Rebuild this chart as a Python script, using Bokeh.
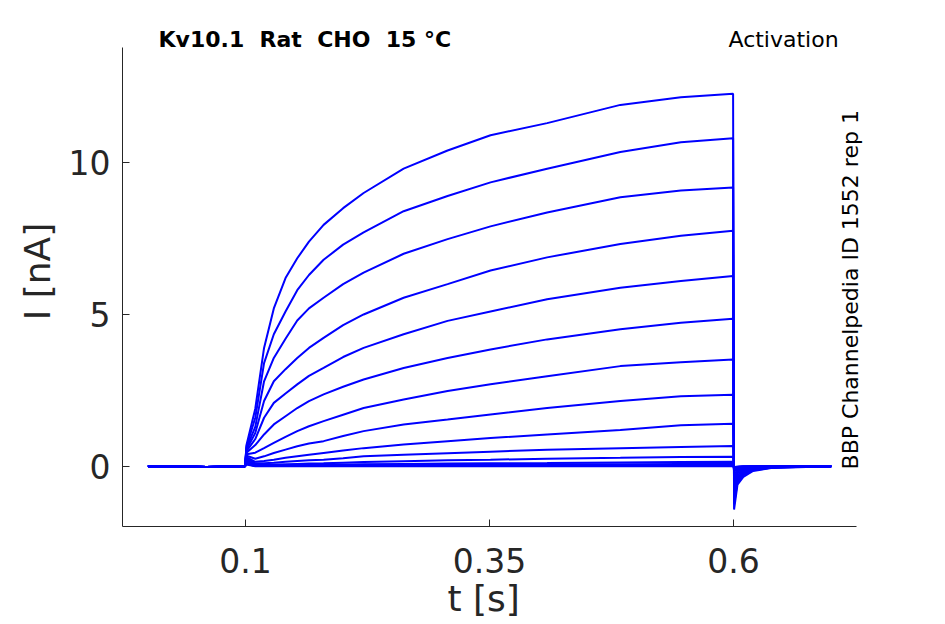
import math
from bokeh.plotting import figure
from bokeh.models import FixedTicker, Label, Range1d, Title
from bokeh.embed import file_html
from bokeh.resources import INLINE

# time points (s) shared by all sweeps
t_s = [0.0, 0.03, 0.06, 0.0995, 0.101, 0.110, 0.119, 0.129, 0.141, 0.153, 0.165, 0.180,
       0.200, 0.221, 0.262, 0.307, 0.351, 0.409, 0.484, 0.546, 0.5995,
       0.6005, 0.604, 0.610, 0.620, 0.640, 0.700]

# current (nA) per sweep
sweep_01 = [0, 0, -0.02, 0, 0.70, 1.90, 3.90, 5.20, 6.20, 6.85, 7.40, 7.95, 8.50, 9.00, 9.80, 10.40, 10.90, 11.30, 11.90, 12.15, 12.27, -1.42, -0.60, -0.35, -0.15, -0.05, 0]
sweep_02 = [0, 0, -0.02, 0, 0.65, 1.60, 3.40, 4.35, 5.10, 5.80, 6.30, 6.80, 7.30, 7.70, 8.40, 8.90, 9.35, 9.80, 10.35, 10.67, 10.80, -1.25, -0.52, -0.30, -0.13, -0.04, 0]
sweep_03 = [0, 0, -0.02, 0, 0.60, 1.30, 2.80, 3.57, 4.20, 4.80, 5.20, 5.55, 6.00, 6.38, 7.00, 7.48, 7.90, 8.36, 8.86, 9.08, 9.18, -1.10, -0.46, -0.26, -0.11, -0.04, 0]
sweep_04 = [0, 0, -0.02, 0, 0.55, 1.10, 2.15, 2.80, 3.20, 3.57, 3.90, 4.23, 4.65, 5.00, 5.55, 6.00, 6.45, 6.88, 7.32, 7.59, 7.76, -0.95, -0.40, -0.23, -0.10, -0.03, 0]
sweep_05 = [0, 0, -0.02, 0, 0.50, 0.90, 1.60, 2.09, 2.40, 2.70, 2.98, 3.24, 3.60, 3.90, 4.35, 4.79, 5.10, 5.50, 5.88, 6.10, 6.27, -0.80, -0.34, -0.20, -0.08, -0.03, 0]
sweep_06 = [0, 0, -0.02, 0, 0.45, 0.70, 1.05, 1.38, 1.65, 1.92, 2.15, 2.37, 2.62, 2.86, 3.24, 3.57, 3.85, 4.18, 4.51, 4.73, 4.86, -0.65, -0.28, -0.16, -0.07, -0.02, 0]
sweep_07 = [0, 0, -0.02, 0, 0.40, 0.45, 0.60, 0.77, 0.97, 1.16, 1.32, 1.49, 1.70, 1.92, 2.20, 2.48, 2.70, 2.97, 3.30, 3.43, 3.52, -0.50, -0.22, -0.13, -0.05, -0.02, 0]
sweep_08 = [0, 0, -0.02, 0, 0.35, 0.25, 0.33, 0.44, 0.55, 0.66, 0.75, 0.83, 1.00, 1.16, 1.38, 1.54, 1.71, 1.92, 2.15, 2.31, 2.36, -0.38, -0.17, -0.10, -0.04, -0.01, 0]
sweep_09 = [0, 0, -0.02, 0, 0.30, 0.15, 0.18, 0.22, 0.28, 0.33, 0.38, 0.44, 0.52, 0.60, 0.72, 0.83, 0.93, 1.05, 1.20, 1.35, 1.40, -0.27, -0.12, -0.07, -0.03, -0.01, 0]
sweep_10 = [0, 0, -0.02, 0, 0.25, 0.10, 0.10, 0.12, 0.15, 0.18, 0.20, 0.22, 0.27, 0.33, 0.38, 0.43, 0.48, 0.55, 0.60, 0.64, 0.67, -0.18, -0.08, -0.05, -0.02, 0, 0]
sweep_11 = [0, 0, -0.02, 0, 0.20, 0.05, 0.05, 0.06, 0.07, 0.08, 0.09, 0.10, 0.12, 0.14, 0.17, 0.20, 0.22, 0.25, 0.28, 0.31, 0.32, -0.12, -0.05, -0.03, -0.01, 0, 0]
sweep_12 = [0, 0, -0.02, 0, 0.15, 0.03, 0.03, 0.03, 0.04, 0.04, 0.05, 0.05, 0.06, 0.07, 0.08, 0.09, 0.10, 0.11, 0.13, 0.14, 0.15, -0.08, -0.03, -0.02, -0.01, 0, 0]
sweep_13 = [0, 0, -0.02, 0, 0.12, 0.02, 0.02, 0.02, 0.03, 0.03, 0.03, 0.04, 0.04, 0.05, 0.05, 0.06, 0.06, 0.07, 0.07, 0.08, 0.08, -0.06, -0.02, -0.01, 0, 0, 0]
sweep_14 = [0, 0, -0.02, 0, 0.10, 0.01, 0.01, 0.01, 0.02, 0.02, 0.02, 0.02, 0.02, 0.03, 0.03, 0.03, 0.03, 0.04, 0.04, 0.04, 0.04, -0.04, -0.02, -0.01, 0, 0, 0]
sweep_15 = [0, 0, -0.02, 0, 0.08, 0.01, 0.01, 0.01, 0.01, 0.01, 0.01, 0.01, 0.01, 0.02, 0.02, 0.02, 0.02, 0.02, 0.02, 0.02, 0.02, -0.03, -0.01, 0, 0, 0, 0]
sweep_16 = [0, 0, -0.02, 0, 0.06, 0.0, 0.0, 0.0, 0.0, 0.0, 0.0, 0.0, 0.0, 0.0, 0.0, 0.0, 0.0, 0.0, 0.0, 0.0, 0.0, -0.02, -0.01, 0, 0, 0, 0]

sweeps = [sweep_01, sweep_02, sweep_03, sweep_04, sweep_05, sweep_06, sweep_07, sweep_08,
          sweep_09, sweep_10, sweep_11, sweep_12, sweep_13, sweep_14, sweep_15, sweep_16]

x_ticks = [0.1, 0.35, 0.6]
y_ticks = [0, 5, 10]

NB = "\u00a0"
title_text = "Kv10.1 " + NB + "Rat " + NB + "CHO " + NB + "15 \u00b0C"
protocol_text = "Activation"
source_text = "BBP Channelpedia ID 1552 rep 1"
x_label = "t [s]"
y_label = "I [nA]"

FONT = "DejaVu Sans"
DARK = "#262626"

# visible axes box
X0, X1 = -0.02602, 0.72602
Y0, Y1 = -1.98, 13.79

p = figure(width=945, height=624, output_backend="svg", toolbar_location=None,
           x_range=Range1d(X0, 0.771), y_range=Range1d(Y0, 14.81),
           min_border_left=122, min_border_right=45, min_border_top=16, min_border_bottom=98)
p.outline_line_color = None
p.grid.visible = False
p.background_fill_color = "white"
p.border_fill_color = "white"

for s in sweeps:
    p.line(t_s, s, line_color="#0000ff", line_width=2)

for ax in (p.xaxis[0], p.yaxis[0]):
    ax.axis_line_color = DARK
    ax.axis_line_width = 1
    ax.major_tick_line_color = DARK
    ax.major_tick_in = 7
    ax.major_tick_out = 0
    ax.minor_tick_line_color = None
    ax.major_label_text_font = FONT
    ax.major_label_text_color = DARK
    ax.major_label_text_font_size = "33px"
    ax.axis_label_text_font = FONT
    ax.axis_label_text_color = DARK
    ax.axis_label_text_font_size = "36px"
    ax.axis_label_text_font_style = "normal"

p.xaxis.bounds = (X0, X1)
p.yaxis.bounds = (Y0, Y1)
p.xaxis.ticker = FixedTicker(ticks=x_ticks)
p.yaxis.ticker = FixedTicker(ticks=y_ticks)
p.xaxis.major_label_overrides = {0.1: "0.1", 0.35: "0.35", 0.6: "0.6"}
p.yaxis.axis_label = y_label
p.xaxis.major_label_standoff = 21
p.yaxis.major_label_standoff = 12
p.yaxis.axis_label_standoff = 8

# x label as a below-panel title so it can be centred on the visible axis
p.add_layout(Title(text=x_label, align="left", offset=325, standoff=0,
                   text_font=FONT, text_font_size="36px", text_font_style="normal",
                   text_color=DARK), "below")

p.add_layout(Label(x=0.0109, y=14.045, text=title_text, text_font=FONT, text_font_size="22px",
                   text_font_style="bold", text_color="black", text_baseline="alphabetic",
                   text_align="left"))
p.add_layout(Label(x=0.7076, y=14.045, text=protocol_text, text_font=FONT, text_font_size="22px",
                   text_color="black", text_baseline="alphabetic", text_align="right"))
p.add_layout(Label(x=0.7199, y=-0.1, text=source_text, text_font=FONT, text_font_size="22px",
                   text_color="black", text_baseline="middle", text_align="left",
                   angle=math.pi / 2))

open("out.html", "w").write(file_html(p, INLINE))
